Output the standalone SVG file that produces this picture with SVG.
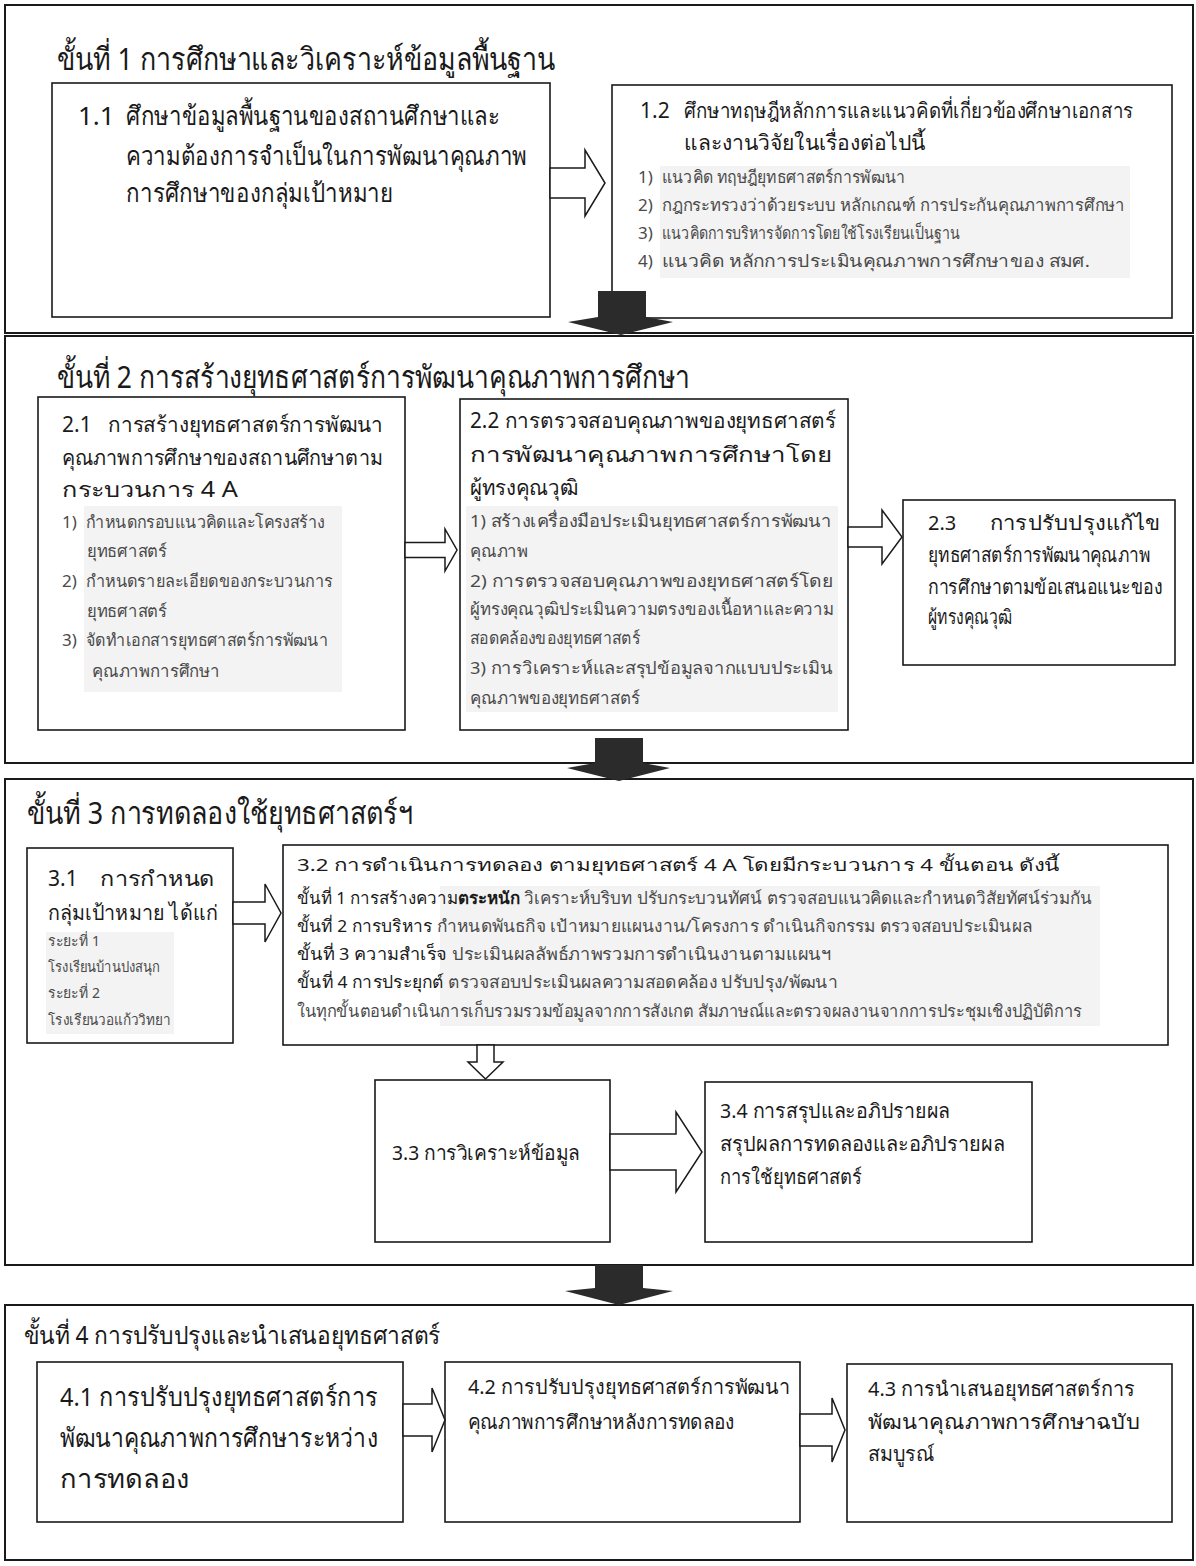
<svg xmlns="http://www.w3.org/2000/svg" width="1196" height="1566" viewBox="0 0 1196 1566">
<style>
text{font-family:"Noto Sans","DejaVu Sans",sans-serif;fill:#1a1a1a}
.sec{fill:none;stroke:#1a1a1a;stroke-width:2}
.box{fill:#fff;stroke:#1a1a1a;stroke-width:1.6}
.hl{fill:#f3f3f3}
.ha{fill:#fff;stroke:#1a1a1a;stroke-width:1.5;stroke-linejoin:miter}
.ba{fill:#2b2b2b;stroke:none}
.ti{font-size:31px}
.t4{font-size:25px}
.h22{font-size:26px}
.h18{font-size:21px}
.h17{font-size:20px}
.it{font-size:17px;fill:#4a4a4a}
.it13{font-size:14.5px;fill:#4a4a4a}
.dk{fill:#1a1a1a}
.b{font-weight:bold}
</style>
<rect width="1196" height="1566" fill="#fff"/>
<g id="section1">
<rect class="sec" x="5" y="5" width="1188" height="328"/>
<text class="ti" x="57" y="70" textLength="498" lengthAdjust="spacingAndGlyphs">ขั้นที่ 1  การศึกษาและวิเคราะห์ข้อมูลพื้นฐาน</text>
</g>
<g id="node1_1">
<rect class="box" x="52" y="83" width="498" height="234"/>
<text class="h22" x="78" y="125">1.1</text>
<text class="h22" x="126" y="125" textLength="374" lengthAdjust="spacingAndGlyphs">ศึกษาข้อมูลพื้นฐานของสถานศึกษาและ</text>
<text class="h22" x="126" y="165" textLength="401" lengthAdjust="spacingAndGlyphs">ความต้องการจำเป็นในการพัฒนาคุณภาพ</text>
<text class="h22" x="126" y="202" textLength="267" lengthAdjust="spacingAndGlyphs">การศึกษาของกลุ่มเป้าหมาย</text>
</g>
<g id="node1_2">
<rect class="box" x="612" y="85" width="560" height="233"/>
<text class="h18" x="640" y="118">1.2</text>
<text class="h18" x="684" y="118" textLength="449" lengthAdjust="spacingAndGlyphs">ศึกษาทฤษฎีหลักการและแนวคิดที่เกี่ยวข้องศึกษาเอกสาร</text>
<text class="h18" x="684" y="150" textLength="241" lengthAdjust="spacingAndGlyphs">และงานวิจัยในเรื่องต่อไปนี้</text>
<rect class="hl" x="660" y="166" width="470" height="112"/>
<text class="it" x="638" y="183">1)</text><text class="it" x="662" y="183" textLength="243" lengthAdjust="spacingAndGlyphs">แนวคิด ทฤษฎียุทธศาสตร์การพัฒนา</text>
<text class="it" x="638" y="211">2)</text><text class="it" x="662" y="211" textLength="463" lengthAdjust="spacingAndGlyphs">กฎกระทรวงว่าด้วยระบบ หลักเกณฑ์ การประกันคุณภาพการศึกษา</text>
<text class="it" x="638" y="239">3)</text><text class="it" x="662" y="239" textLength="298" lengthAdjust="spacingAndGlyphs">แนวคิดการบริหารจัดการโดยใช้โรงเรียนเป็นฐาน</text>
<text class="it" x="638" y="267">4)</text><text class="it" x="662" y="267" textLength="428" lengthAdjust="spacingAndGlyphs">แนวคิด หลักการประเมินคุณภาพการศึกษาของ สมศ.</text>
</g>
<g id="section2">
<rect class="sec" x="5" y="336" width="1188" height="427"/>
<text class="ti" x="57" y="388" textLength="633" lengthAdjust="spacingAndGlyphs">ขั้นที่ 2  การสร้างยุทธศาสตร์การพัฒนาคุณภาพการศึกษา</text>
</g>
<g id="node2_1">
<rect class="box" x="38" y="397" width="367" height="333"/>
<text class="h18" x="62" y="432">2.1</text>
<text class="h18" x="108" y="432" textLength="275" lengthAdjust="spacingAndGlyphs">การสร้างยุทธศาสตร์การพัฒนา</text>
<text class="h18" x="62" y="465" textLength="321" lengthAdjust="spacingAndGlyphs">คุณภาพการศึกษาของสถานศึกษาตาม</text>
<text class="h18" x="62" y="497" textLength="176" lengthAdjust="spacingAndGlyphs">กระบวนการ  4 A</text>
<rect class="hl" x="84" y="506" width="258" height="186"/>
<text class="it" x="62" y="528">1)</text><text class="it" x="86" y="528" textLength="239" lengthAdjust="spacingAndGlyphs">กำหนดกรอบแนวคิดและโครงสร้าง</text>
<text class="it" x="87" y="557" textLength="80" lengthAdjust="spacingAndGlyphs">ยุทธศาสตร์</text>
<text class="it" x="62" y="587">2)</text><text class="it" x="86" y="587" textLength="247" lengthAdjust="spacingAndGlyphs">กำหนดรายละเอียดของกระบวนการ</text>
<text class="it" x="87" y="617" textLength="80" lengthAdjust="spacingAndGlyphs">ยุทธศาสตร์</text>
<text class="it" x="62" y="646">3)</text><text class="it" x="86" y="646" textLength="242" lengthAdjust="spacingAndGlyphs">จัดทำเอกสารยุทธศาสตร์การพัฒนา</text>
<text class="it" x="92" y="677" textLength="128" lengthAdjust="spacingAndGlyphs">คุณภาพการศึกษา</text>
</g>
<g id="node2_2">
<rect class="box" x="460" y="399" width="388" height="331"/>
<text class="h18" x="470" y="428" textLength="366" lengthAdjust="spacingAndGlyphs">2.2 การตรวจสอบคุณภาพของยุทธศาสตร์</text>
<text class="h18" x="470" y="462" textLength="362" lengthAdjust="spacingAndGlyphs">การพัฒนาคุณภาพการศึกษาโดย</text>
<text class="h18" x="470" y="495" textLength="108" lengthAdjust="spacingAndGlyphs">ผู้ทรงคุณวุฒิ</text>
<rect class="hl" x="466" y="506" width="372" height="206"/>
<text class="it" x="470" y="527" textLength="362" lengthAdjust="spacingAndGlyphs">1) สร้างเครื่องมือประเมินยุทธศาสตร์การพัฒนา</text>
<text class="it" x="470" y="557" textLength="58" lengthAdjust="spacingAndGlyphs">คุณภาพ</text>
<text class="it" x="470" y="587" textLength="363" lengthAdjust="spacingAndGlyphs">2)  การตรวจสอบคุณภาพของยุทธศาสตร์โดย</text>
<text class="it" x="470" y="615" textLength="364" lengthAdjust="spacingAndGlyphs">ผู้ทรงคุณวุฒิประเมินความตรงของเนื้อหาและความ</text>
<text class="it" x="470" y="644" textLength="170" lengthAdjust="spacingAndGlyphs">สอดคล้องของยุทธศาสตร์</text>
<text class="it" x="470" y="674" textLength="363" lengthAdjust="spacingAndGlyphs">3) การวิเคราะห์และสรุปข้อมูลจากแบบประเมิน</text>
<text class="it" x="470" y="704" textLength="170" lengthAdjust="spacingAndGlyphs">คุณภาพของยุทธศาสตร์</text>
</g>
<g id="node2_3">
<rect class="box" x="903" y="500" width="272" height="165"/>
<text class="h17" x="928" y="530">2.3</text>
<text class="h17" x="990" y="530" textLength="170" lengthAdjust="spacingAndGlyphs">การปรับปรุงแก้ไข</text>
<text class="h17" x="928" y="562" textLength="222" lengthAdjust="spacingAndGlyphs">ยุทธศาสตร์การพัฒนาคุณภาพ</text>
<text class="h17" x="928" y="594" textLength="235" lengthAdjust="spacingAndGlyphs">การศึกษาตามข้อเสนอแนะของ</text>
<text class="h17" x="928" y="624" textLength="84" lengthAdjust="spacingAndGlyphs">ผู้ทรงคุณวุฒิ</text>
</g>
<g id="section3">
<rect class="sec" x="5" y="779" width="1188" height="486"/>
<text class="ti" x="27" y="824" textLength="386" lengthAdjust="spacingAndGlyphs">ขั้นที่ 3  การทดลองใช้ยุทธศาสตร์ฯ</text>
</g>
<g id="node3_1">
<rect class="box" x="27" y="848" width="206" height="195"/>
<text class="h18" x="48" y="886">3.1</text>
<text class="h18" x="100" y="886" textLength="115" lengthAdjust="spacingAndGlyphs">การกำหนด</text>
<text class="h18" x="48" y="920" textLength="170" lengthAdjust="spacingAndGlyphs">กลุ่มเป้าหมาย  ได้แก่</text>
<rect class="hl" x="46" y="932" width="128" height="102"/>
<text class="it13" x="48" y="946" textLength="52" lengthAdjust="spacingAndGlyphs">ระยะที่ 1</text>
<text class="it13" x="48" y="972" textLength="112" lengthAdjust="spacingAndGlyphs">โรงเรียนบ้านปงสนุก</text>
<text class="it13" x="48" y="998" textLength="52" lengthAdjust="spacingAndGlyphs">ระยะที่ 2</text>
<text class="it13" x="48" y="1025" textLength="122" lengthAdjust="spacingAndGlyphs">โรงเรียนวอแก้ววิทยา</text>
</g>
<g id="node3_2">
<rect class="box" x="283" y="845" width="885" height="200"/>
<text class="it dk" x="297" y="871" textLength="763" lengthAdjust="spacingAndGlyphs">3.2 การดำเนินการทดลอง ตามยุทธศาสตร์ 4 A    โดยมีกระบวนการ 4 ขั้นตอน ดังนี้</text>
<rect class="hl" x="440" y="886" width="660" height="140"/>
<text class="it" x="297" y="904" textLength="795" lengthAdjust="spacingAndGlyphs"><tspan class="dk">ขั้นที่ 1  การสร้างความ</tspan><tspan class="dk b">ตระหนัก</tspan>  วิเคราะห์บริบท ปรับกระบวนทัศน์ ตรวจสอบแนวคิดและกำหนดวิสัยทัศน์ร่วมกัน</text>
<text class="it" x="297" y="932" textLength="735" lengthAdjust="spacingAndGlyphs"><tspan class="dk">ขั้นที่ 2  การบริหาร</tspan>  กำหนดพันธกิจ  เป้าหมายแผนงาน/โครงการ ดำเนินกิจกรรม  ตรวจสอบประเมินผล</text>
<text class="it" x="297" y="960" textLength="535" lengthAdjust="spacingAndGlyphs"><tspan class="dk">ขั้นที่ 3  ความสำเร็จ</tspan>  ประเมินผลลัพธ์ภาพรวมการดำเนินงานตามแผนฯ</text>
<text class="it" x="297" y="988" textLength="541" lengthAdjust="spacingAndGlyphs"><tspan class="dk">ขั้นที่ 4  การประยุกต์</tspan>  ตรวจสอบประเมินผลความสอดคล้อง ปรับปรุง/พัฒนา</text>
<text class="it" x="297" y="1017" textLength="785" lengthAdjust="spacingAndGlyphs">ในทุกขั้นตอนดำเนินการเก็บรวมรวมข้อมูลจากการสังเกต สัมภาษณ์และตรวจผลงานจากการประชุมเชิงปฏิบัติการ</text>
</g>
<g id="node3_3">
<rect class="box" x="375" y="1080" width="235" height="162"/>
<text class="h17" x="392" y="1160" textLength="188" lengthAdjust="spacingAndGlyphs">3.3 การวิเคราะห์ข้อมูล</text>
</g>
<g id="node3_4">
<rect class="box" x="705" y="1082" width="327" height="160"/>
<text class="h17" x="720" y="1118" textLength="230" lengthAdjust="spacingAndGlyphs">3.4 การสรุปและอภิปรายผล</text>
<text class="h17" x="720" y="1151" textLength="285" lengthAdjust="spacingAndGlyphs">สรุปผลการทดลองและอภิปรายผล</text>
<text class="h17" x="720" y="1184" textLength="142" lengthAdjust="spacingAndGlyphs">การใช้ยุทธศาสตร์</text>
</g>
<g id="section4">
<rect class="sec" x="5" y="1305" width="1188" height="255"/>
<text class="t4" x="24" y="1344" textLength="416" lengthAdjust="spacingAndGlyphs">ขั้นที่ 4 การปรับปรุงและนำเสนอยุทธศาสตร์</text>
</g>
<g id="node4_1">
<rect class="box" x="37" y="1362" width="366" height="160"/>
<text class="h22" x="60" y="1406" textLength="318" lengthAdjust="spacingAndGlyphs">4.1  การปรับปรุงยุทธศาสตร์การ</text>
<text class="h22" x="60" y="1447" textLength="318" lengthAdjust="spacingAndGlyphs">พัฒนาคุณภาพการศึกษาระหว่าง</text>
<text class="h22" x="60" y="1488" textLength="130" lengthAdjust="spacingAndGlyphs">การทดลอง</text>
</g>
<g id="node4_2">
<rect class="box" x="445" y="1362" width="355" height="160"/>
<text class="h17" x="468" y="1394" textLength="322" lengthAdjust="spacingAndGlyphs">4.2 การปรับปรุงยุทธศาสตร์การพัฒนา</text>
<text class="h17" x="468" y="1429" textLength="267" lengthAdjust="spacingAndGlyphs">คุณภาพการศึกษาหลังการทดลอง</text>
</g>
<g id="node4_3">
<rect class="box" x="847" y="1364" width="325" height="158"/>
<text class="h17" x="868" y="1396" textLength="267" lengthAdjust="spacingAndGlyphs">4.3 การนำเสนอยุทธศาสตร์การ</text>
<text class="h17" x="868" y="1429" textLength="272" lengthAdjust="spacingAndGlyphs">พัฒนาคุณภาพการศึกษาฉบับ</text>
<text class="h17" x="868" y="1461" textLength="67" lengthAdjust="spacingAndGlyphs">สมบูรณ์</text>
</g>
<g id="connectors">
<polygon class="ha" points="550,168 585,168 585,150 605,183 585,216 585,198 550,198"/>
<polygon class="ha" points="405,542.5 445,542.5 445,529 457,550 445,571 445,557.5 405,557.5"/>
<polygon class="ha" points="848,527 882,527 882,510 902,537 882,564 882,547 848,547"/>
<polygon class="ha" points="233,902 265,902 265,884 281,913 265,942 265,924 233,924"/>
<polygon class="ha" points="477,1045 494,1045 494,1062 503,1062 485.5,1079 468,1062 477,1062"/>
<polygon class="ha" points="610,1134 676,1134 676,1112 702,1152 676,1192 676,1170 610,1170"/>
<polygon class="ha" points="403,1404 432,1404 432,1388 445,1420 432,1452 432,1436 403,1436"/>
<polygon class="ha" points="800,1414 832,1414 832,1398 845,1430 832,1462 832,1446 800,1446"/>
<polygon class="ba" points="598,291 646,291 646,317 673,322 621,335 568,322 598,317"/>
<polygon class="ba" points="595,738 643,738 643,763 670,768 619,781 567,768 595,763"/>
<polygon class="ba" points="595,1265 643,1265 643,1288 673,1291 619,1305 565,1291 595,1288"/>
</g>
</svg>
